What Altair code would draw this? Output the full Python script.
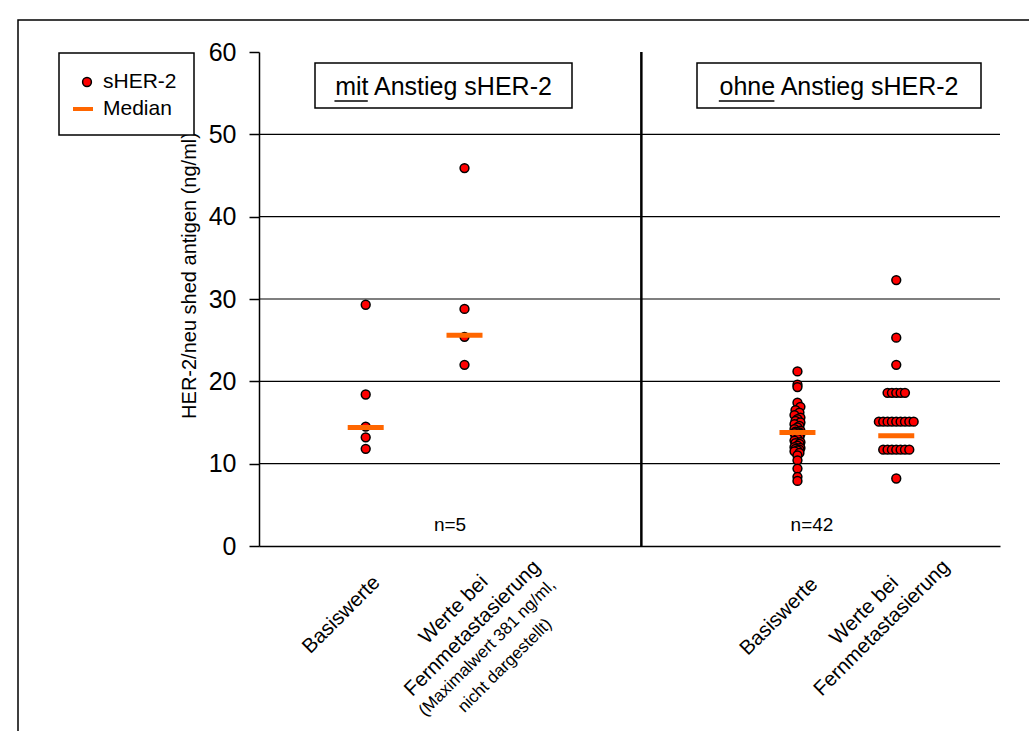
import altair as alt
import pandas as pd

FONT = "Liberation Sans"
RED = "#FF0000"
ORANGE = "#FF6600"

# ---- data -------------------------------------------------------------
# centre of each group on the x scale (0 ... 7.5)
cat_pos = [1.08, 2.08, 5.45, 6.45]
split_x = 3.87

# sHER-2 (ng/ml), "mit Anstieg" group
basis_mit = [29.3, 18.4, 14.5, 13.2, 11.8]
fern_mit = [45.9, 28.8, 25.4, 22.0]          # 381 ng/ml lies off scale

# sHER-2 (ng/ml), "ohne Anstieg" group
basis_ohne = [21.2, 19.6, 19.3, 17.4, 16.9, 16.5, 16.2, 15.9, 15.6, 15.4,
              15.2, 15.0, 14.8, 14.6, 14.4, 14.2, 14.0, 13.9, 13.8, 13.8,
              13.7, 13.6, 13.4, 13.2, 13.0, 12.8, 12.6, 12.5, 12.4, 12.2,
              12.0, 11.9, 11.8, 11.7, 11.6, 11.5, 11.3, 11.0, 10.4, 9.4,
              8.4, 7.9]
basis_ohne_shift = [0, 0, 0, 0, 0.03, -0.02, 0.02, -0.03, 0.03, 0,
                    -0.02, 0.03, -0.03, 0.02, 0, -0.03, 0.03, -0.02, 0.02, 0,
                    -0.03, 0.03, -0.02, 0.02, 0, -0.03, 0.03, -0.02, 0.02, 0,
                    -0.03, 0.03, -0.02, 0.02, 0, -0.03, 0.02, 0, 0, 0,
                    0, 0]
fern_ohne = [32.3, 25.3, 22.0,
             18.6, 18.6, 18.6, 18.6, 18.6,
             15.1, 15.1, 15.1, 15.1, 15.1, 15.1, 15.1, 15.1, 15.1,
             11.7, 11.7, 11.7, 11.7, 11.7, 11.7, 11.7,
             8.2]
fern_ohne_shift = [0, 0, 0,
                   -0.088, -0.044, 0, 0.044, 0.088,
                   -0.176, -0.132, -0.088, -0.044, 0, 0.044, 0.088, 0.132, 0.176,
                   -0.132, -0.088, -0.044, 0, 0.044, 0.088, 0.132,
                   0]

medians = [14.4, 25.6, 13.8, 13.4]
grid_values = [10, 20, 30, 40, 50]
y_ticks = [0, 10, 20, 30, 40, 50, 60]

panel_titles = [("mit", " Anstieg sHER-2"), ("ohne", " Anstieg sHER-2")]
n_labels = ["n=5", "n=42"]
cat_labels = ["Basiswerte", "Werte bei\nFernmetastasierung",
              "Basiswerte", "Werte bei\nFernmetastasierung"]
note_label = "(Maximalwert 381 ng/ml,\nnicht dargestellt)"
legend_labels = ["sHER-2", "Median"]
y_title = "HER-2/neu shed antigen (ng/ml)"

# ---- tables -----------------------------------------------------------
px, py = [], []
for v in basis_mit:
    px.append(cat_pos[0]); py.append(v)
for v in fern_mit:
    px.append(cat_pos[1]); py.append(v)
for v, s in zip(basis_ohne, basis_ohne_shift):
    px.append(cat_pos[2] + s); py.append(v)
for v, s in zip(fern_ohne, fern_ohne_shift):
    px.append(cat_pos[3] + s); py.append(v)
points = pd.DataFrame({"x": px, "y": py})
med = pd.DataFrame({"x": cat_pos, "y": medians})
grid = pd.DataFrame({"y": grid_values})
one = pd.DataFrame({"k": [0]})

W, H = 741, 494
xs = alt.Scale(domain=[0, 7.5], nice=False, zero=False)
ys = alt.Scale(domain=[0, 60], nice=False, zero=False)

x_axis = alt.Axis(labels=False, ticks=False, grid=False, title=None,
                  domainColor="black", domainWidth=1.5)
y_axis = alt.Axis(values=y_ticks, grid=False, tickSize=10, tickColor="black",
                  tickWidth=1.5, domainColor="black", domainWidth=1.5,
                  labelFont=FONT, labelFontSize=25, labelColor="black",
                  labelPadding=13, title=y_title, titleFont=FONT,
                  titleFontSize=20, titleFontWeight="normal",
                  titleColor="black", titleAngle=270, titleX=-70, titleY=223,
                  titleAlign="center", titleBaseline="middle")


def xq(field):
    return alt.X(f"{field}:Q", scale=xs, axis=x_axis)


def yq(field):
    return alt.Y(f"{field}:Q", scale=ys, axis=y_axis)


# ---- layers -----------------------------------------------------------
frame = alt.Chart(one).mark_rect(fillOpacity=0, stroke="black", strokeWidth=1.5).encode(
    x=alt.value(-241), x2=alt.value(W + 60), y=alt.value(-32), y2=alt.value(H + 240))

gridlines = alt.Chart(grid).mark_rule(color="black", strokeWidth=1.2).encode(
    y=yq("y"),
    x=alt.X(datum=0, scale=xs, axis=x_axis), x2=alt.X2(datum=7.5))

divider = alt.Chart(one).mark_rule(color="black", strokeWidth=2.5).encode(
    x=alt.X(datum=split_x, scale=xs, axis=x_axis),
    y=alt.Y(datum=0, scale=ys, axis=y_axis), y2=alt.Y2(datum=60))

dots = alt.Chart(points).mark_circle(size=78, color=RED, opacity=1,
                                     stroke="black", strokeWidth=1.5).encode(
    x=xq("x"), y=yq("y"))

median_bars = alt.Chart(med).mark_tick(orient="horizontal", size=36, thickness=5,
                                       color=ORANGE, opacity=1).encode(
    x=xq("x"), y=yq("y"))

layers = [frame, gridlines, divider, dots, median_bars]

# panel headings with underlined first word (widths in em of Arial metrics)
word_em = {"mit": 1.333, "ohne": 2.224}
title_em = {"mit": 8.724, "ohne": 9.615}
for (word, rest), (bx0, bx1, cx) in zip(panel_titles, [(56, 313, 184.5), (438, 722, 580)]):
    layers.append(alt.Chart(one).mark_rect(fill="white", stroke="black", strokeWidth=1.5).encode(
        x=alt.value(bx0), x2=alt.value(bx1), y=alt.value(11), y2=alt.value(56)))
    layers.append(alt.Chart(one).mark_text(font=FONT, fontSize=25, color="black",
                                           align="center", baseline="alphabetic",
                                           text=word + rest).encode(
        x=alt.value(cx), y=alt.value(43)))
    x0 = cx - title_em[word] * 25 / 2
    layers.append(alt.Chart(one).mark_rule(color="black", strokeWidth=1.5).encode(
        x=alt.value(x0), x2=alt.value(x0 + word_em[word] * 25), y=alt.value(49)))

# sample sizes
for lab, cx in zip(n_labels, [191, 553]):
    layers.append(alt.Chart(one).mark_text(font=FONT, fontSize=19, color="black",
                                           align="center", baseline="middle",
                                           text=lab).encode(
        x=alt.value(cx), y=alt.value(473)))

# rotated category labels below the axis
label_style = [(-65.8, 21.5, 26.5), (-52.7, 27.5, 26.5), (-63.0, 26.9, 26.5), (-68.3, 13.2, 24.8)]
for pos, lab, (dx, dy, lh) in zip(cat_pos, cat_labels, label_style):
    layers.append(alt.Chart(one).mark_text(font=FONT, fontSize=20.5, color="black",
                                           align="center", baseline="top", angle=315,
                                           dx=dx, dy=dy, lineHeight=lh, lineBreak="\n",
                                           text=lab).encode(
        x=alt.X(datum=pos, scale=xs, axis=x_axis),
        y=alt.Y(datum=0, scale=ys, axis=y_axis)))
layers.append(alt.Chart(one).mark_text(font=FONT, fontSize=17, color="black",
                                       align="center", baseline="top", angle=315,
                                       dx=-56, dy=80.2, lineHeight=25, lineBreak="\n",
                                       text=note_label).encode(
    x=alt.X(datum=cat_pos[1], scale=xs, axis=x_axis),
    y=alt.Y(datum=0, scale=ys, axis=y_axis)))

# legend
layers.append(alt.Chart(one).mark_rect(fill="white", stroke="black", strokeWidth=1.5).encode(
    x=alt.value(-200), x2=alt.value(-65), y=alt.value(1), y2=alt.value(83)))
layers.append(alt.Chart(one).mark_circle(size=78, color=RED, opacity=1,
                                         stroke="black", strokeWidth=1.5).encode(
    x=alt.value(-172), y=alt.value(30)))
layers.append(alt.Chart(one).mark_rule(color=ORANGE, strokeWidth=4).encode(
    x=alt.value(-186), x2=alt.value(-166), y=alt.value(57)))
for lab, ly in zip(legend_labels, [30, 57]):
    layers.append(alt.Chart(one).mark_text(font=FONT, fontSize=21, color="black",
                                           align="left", baseline="middle",
                                           text=lab).encode(
        x=alt.value(-156), y=alt.value(ly)))

chart = alt.layer(*layers).properties(
    width=W, height=H,
    autosize=alt.AutoSizeParams(type="none"),
    padding={"left": 259, "top": 52, "right": 29, "bottom": 185},
    background="white",
).configure_view(stroke=None)

chart.save("out.html", embed_options={"renderer": "svg", "actions": False})
